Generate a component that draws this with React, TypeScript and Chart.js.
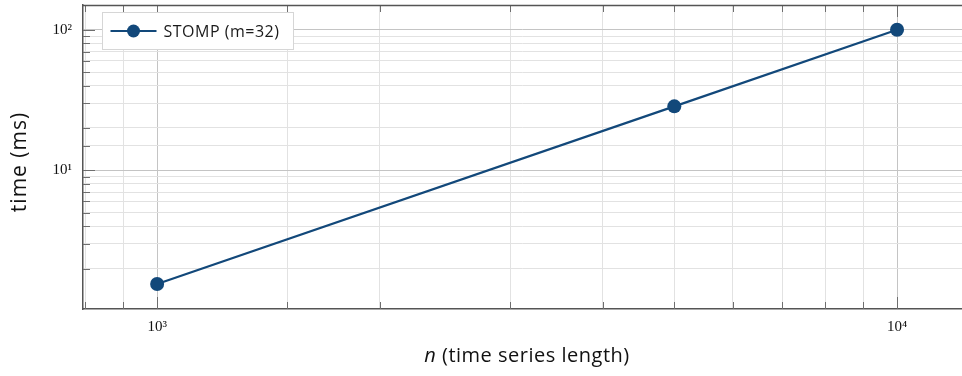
import React, { useEffect, useRef } from "react";
import { Chart, registerables } from "chart.js";

Chart.register(...registerables);

const seriesLabel = "STOMP (m=32)";
const nValues = [1000, 5000, 10000];
const timeMs = [1.55, 28.5, 100];
const xTickLabels: Record<number, string> = { 1000: "10³", 10000: "10⁴" };
const yTickLabels: Record<number, string> = { 10: "10¹", 100: "10²" };
const xTitleItalic = "n";
const xTitleRest = " (time series length)";
const yTitle = "time (ms)";
const xRange = [794, 12240];
const yRange = [1.03, 150];

const LINE_COLOR = "#12487a";
const SANS = "'Open Sans', Lato, sans-serif";
const SERIF = "'Liberation Serif', 'DejaVu Serif', serif";

const isPow10 = (v: number) => Math.abs(Math.log10(v) - Math.round(Math.log10(v))) < 1e-9;

function gridColor(ctx: any, range: number[]) {
  const v = ctx.tick ? ctx.tick.value : NaN;
  if (!isFinite(v) || Math.abs(v - range[0]) < 1e-6 || Math.abs(v - range[1]) < 1e-6) return "rgba(0,0,0,0)";
  return isPow10(v) ? "#c4c4c4" : "#e2e2e2";
}

const decorPlugin = {
  id: "decor",
  beforeDatasetsDraw(chart: any) {
    const { ctx, chartArea } = chart;
    const xs = chart.scales.x;
    const ys = chart.scales.y;
    ctx.save();
    ctx.strokeStyle = "#6e6e6e";
    ctx.lineWidth = 1;
    for (const t of xs.ticks) {
      const v = t.value;
      if (Math.abs(v - xRange[0]) < 1e-6 || Math.abs(v - xRange[1]) < 1e-6) continue;
      const px = Math.round(xs.getPixelForValue(v)) + 0.5;
      const len = isPow10(v) ? 12 : 7;
      ctx.beginPath();
      ctx.moveTo(px, chartArea.bottom);
      ctx.lineTo(px, chartArea.bottom - len);
      ctx.moveTo(px, chartArea.top);
      ctx.lineTo(px, chartArea.top + len);
      ctx.stroke();
    }
    for (const t of ys.ticks) {
      const v = t.value;
      if (Math.abs(v - yRange[0]) < 1e-6 || Math.abs(v - yRange[1]) < 1e-6) continue;
      const py = Math.round(ys.getPixelForValue(v)) + 0.5;
      const len = isPow10(v) ? 12 : 7;
      ctx.beginPath();
      ctx.moveTo(chartArea.left, py);
      ctx.lineTo(chartArea.left + len, py);
      ctx.stroke();
    }
    ctx.strokeStyle = "#555";
    ctx.lineWidth = 1.5;
    ctx.beginPath();
    ctx.moveTo(chartArea.left, chartArea.top + 0.5);
    ctx.lineTo(chartArea.right, chartArea.top + 0.5);
    ctx.stroke();
    ctx.restore();
  },
  afterDraw(chart: any) {
    const { ctx, chartArea } = chart;
    ctx.save();
    ctx.fillStyle = "#111";
    ctx.textBaseline = "middle";
    const italicFont = `italic 20px ${SANS}`;
    const normalFont = `20px ${SANS}`;
    ctx.letterSpacing = "0.5px";
    ctx.font = italicFont;
    const w1 = ctx.measureText(xTitleItalic).width;
    ctx.font = normalFont;
    const w2 = ctx.measureText(xTitleRest).width;
    const cx = 527;
    const startX = cx - (w1 + w2) / 2;
    const ty = 356;
    ctx.textAlign = "left";
    ctx.font = italicFont;
    ctx.fillText(xTitleItalic, startX, ty);
    ctx.font = normalFont;
    ctx.fillText(xTitleRest, startX + w1, ty);
    ctx.save();
    ctx.translate(20, 162);
    ctx.rotate(-Math.PI / 2);
    ctx.letterSpacing = "1px";
    ctx.textAlign = "center";
    ctx.font = `21px ${SANS}`;
    ctx.fillText(yTitle, 0, 0);
    ctx.restore();
    const lx = chartArea.left + 19.5;
    const ly = chartArea.top + 7.5;
    const lw = 191;
    const lh = 37;
    ctx.fillStyle = "#fff";
    ctx.fillRect(lx, ly, lw, lh);
    ctx.strokeStyle = "#d6d6d6";
    ctx.lineWidth = 1;
    ctx.strokeRect(lx, ly, lw, lh);
    const my = ly + lh / 2;
    ctx.strokeStyle = LINE_COLOR;
    ctx.lineWidth = 2.2;
    ctx.beginPath();
    ctx.moveTo(lx + 8, my);
    ctx.lineTo(lx + 54, my);
    ctx.stroke();
    ctx.fillStyle = LINE_COLOR;
    ctx.beginPath();
    ctx.arc(lx + 31, my, 6.5, 0, Math.PI * 2);
    ctx.fill();
    ctx.fillStyle = "#1a1a1a";
    ctx.font = `16px ${SANS}`;
    ctx.letterSpacing = "0.5px";
    ctx.textAlign = "left";
    ctx.textBaseline = "middle";
    ctx.fillText(chart.data.datasets[0].label, lx + 61, my + 1);
    ctx.restore();
  },
};

export default function App() {
  const ref = useRef<HTMLCanvasElement>(null);
  useEffect(() => {
    if (!ref.current) return;
    const chart = new Chart(ref.current, {
      type: "line",
      data: {
        datasets: [
          {
            label: seriesLabel,
            data: nValues.map((n, i) => ({ x: n, y: timeMs[i] })),
            borderColor: LINE_COLOR,
            backgroundColor: LINE_COLOR,
            borderWidth: 2.2,
            pointRadius: 7,
            pointHoverRadius: 7,
            pointBorderWidth: 0,
            tension: 0,
          },
        ],
      },
      options: {
        animation: false,
        responsive: true,
        maintainAspectRatio: false,
        layout: { autoPadding: false, padding: { top: 5, right: 0, left: 0, bottom: 0 } },
        plugins: { legend: { display: false }, tooltip: { enabled: false } },
        scales: {
          x: {
            type: "logarithmic",
            min: xRange[0],
            max: xRange[1],
            afterFit: (s: any) => {
              s.height = 67;
              s.paddingLeft = 0;
              s.paddingRight = 0;
            },
            grid: {
              color: (c: any) => gridColor(c, xRange),
              lineWidth: 1,
              drawTicks: false,
            },
            border: { color: "#555", width: 1.5 },
            ticks: {
              autoSkip: false,
              maxRotation: 0,
              padding: 9,
              color: "#111",
              font: { family: SERIF, size: 15 },
              callback: (v: any) => xTickLabels[Number(v)] ?? "",
            },
          },
          y: {
            type: "logarithmic",
            min: yRange[0],
            max: yRange[1],
            afterFit: (s: any) => {
              s.width = 83;
              s.paddingTop = 0;
              s.paddingBottom = 0;
            },
            grid: {
              color: (c: any) => gridColor(c, yRange),
              lineWidth: 1,
              drawTicks: false,
            },
            border: { color: "#555", width: 1.5 },
            ticks: {
              autoSkip: false,
              padding: 11,
              color: "#111",
              font: { family: SERIF, size: 15 },
              callback: (v: any) => yTickLabels[Number(v)] ?? "",
            },
          },
        },
      },
      plugins: [decorPlugin],
    } as any);
    return () => chart.destroy();
  }, []);
  return (
    <div style={{ position: "absolute", left: 0, top: 0, width: 962, height: 376 }}>
      <canvas ref={ref} />
    </div>
  );
}
